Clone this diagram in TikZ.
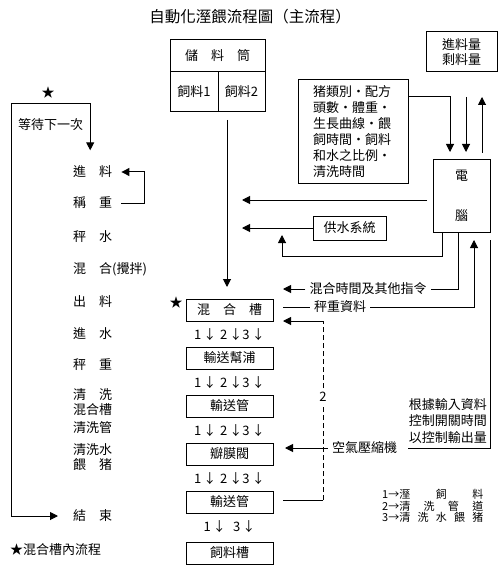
\documentclass[tikz,border=0pt]{standalone}
\usepackage{fontspec}
\setmainfont{Noto Sans CJK TC}
\usepackage{tikz}
\usetikzlibrary{positioning,arrows.meta}
\tikzset{c-box/.style={rectangle, minimum width=87pt, minimum height=22pt, text centered, inner sep=0pt, outer sep=0pt, draw=black, line width=1pt},
c-cell/.style={rectangle, inner sep=0pt, outer sep=0pt, draw=black, line width=1pt},
c-item/.style={anchor=west, inner sep=0pt, align=left},
c-tag/.style={inner sep=4pt},
c-flow/.style={inner sep=0pt},
link/.style={line width=1pt},
arrow/.style={line width=1pt,->,>={Triangle[length=8pt,width=8pt]}}}
\newcommand{\spreadchars}[2]{\makebox[#1][l]{#2}}

\begin{document}
\begin{tikzpicture}[x=1pt, y=-1pt, node distance=48pt, font=\fontsize{13pt}{15pt}\selectfont]
\useasboundingbox (0,0) rectangle (499,569);
\node (title) at (250,17) {\fontsize{15.5pt}{17pt}\selectfont 自動化溼餵流程圖（主流程）};

% storage
\node (store) [c-cell, minimum width=95pt, minimum height=32pt] at (217.5,56) {儲　料　筒};
\node (feed1) [c-cell, minimum width=48pt, minimum height=40pt, below right=0pt and 0pt of store.south west] {飼料1};
\node (feed2) [c-cell, minimum width=47pt, minimum height=40pt, right=0pt of feed1] {飼料2};

% main line
\node (tank) [c-box] at (229.5,310) {混　合　槽};
\node (pump) [c-box, below of=tank] {輸送幫浦};
\node (pipe1) [c-box, below of=pump] {輸送管};
\node (valve) [c-box, below of=pipe1] {瓣膜閥};
\node (pipe2) [c-box, below of=valve] {輸送管};
\node (trough) [c-box, below of=pipe2, node distance=51pt] {飼料槽};
\node (f1) [c-flow, below of=tank, node distance=25pt] {1\,↓\;2\,↓3\,↓};
\node (f2) [c-flow, below of=pump, node distance=25pt] {1\,↓\;2\,↓3\,↓};
\node (f3) [c-flow, below of=pipe1, node distance=25pt] {1\,↓\;2\,↓3\,↓};
\node (f4) [c-flow, below of=valve, node distance=25pt] {1\,↓\;2\,↓3\,↓};
\node (f5) [c-flow, below of=pipe2, node distance=25pt] {1\,↓\;\;3\,↓};
\node (star2) [c-flow] at (176,303) {★};

% control side
\node (qty) [c-cell, minimum width=71pt, minimum height=40pt, align=center] at (461.5,52) {進料量\\剩料量};
\node (info) [c-cell, minimum width=110pt, minimum height=104pt, text width=80pt, align=left, font=\fontsize{13pt}{16pt}\selectfont] at (353,132) {猪類別・配方\\頭數・體重・\\生長曲線・餵\\飼時間・飼料\\和水之比例・\\清洗時間};
\node (pc) [c-cell, minimum width=57pt, minimum height=72pt, align=center] at (461.5,196) {電\\[25pt]腦};
\node (water) [c-cell, minimum width=73pt, minimum height=24pt] at (349.5,228) {供水系統};
\node (mixcmd) [c-tag] at (368,289) {混合時間及其他指令};
\node (wdata) [c-tag] at (340,307) {秤重資料};
\node (air) [c-tag] at (364.5,448) {空氣壓縮機};
\node (ctrl) [c-tag, anchor=east, align=right, font=\fontsize{13pt}{16.5pt}\selectfont] at (491,421) {根據輸入資料\\控制開關時間\\以控制輸出量};
\node (legend) [c-item, font=\fontsize{11pt}{11.5pt}\selectfont] at (382,506) {1→\spreadchars{84pt}{溼\hfill 飼\hfill 料}\\2→\spreadchars{84pt}{清\hfill 洗\hfill 管\hfill 道}\\3→\spreadchars{84pt}{清\hfill 洗\hfill 水\hfill 餵\hfill 猪}};

% steps on the left
\node (star1) [c-flow] at (48,93) {★};
\node (wait) [c-item] at (18,125) {等待下一次};
\node (feed) [c-item] at (73,172) {進　料};
\node (weigh) [c-item] at (73,203) {稱　重};
\node (wwater) [c-item] at (73,237) {秤　水};
\node (mix) [c-item] at (73,269) {混　合(攪拌)};
\node (out) [c-item] at (73,302) {出　料};
\node (win) [c-item] at (73,334) {進　水};
\node (wweigh) [c-item] at (73,365) {秤　重};
\node (clean) [c-item] at (73,402) {清　洗\\混合槽};
\node (pipecl) [c-item] at (73,428) {清洗管};
\node (wfeed) [c-item] at (73,457) {清洗水\\餵　猪};
\node (stop) [c-item] at (73,516) {結　束};
\node (note) [c-item] at (10,550) {★混合槽內流程};

\coordinate (loopc) at (11,104);
\coordinate (sup1) at (242,200);
\coordinate (sup2) at (242,228);
\coordinate (wback) at (282,235);
\coordinate (mixin) at (283,289);
\coordinate (airin) at (285,448);
\coordinate (rb) at (323,500);
\coordinate (rt) at (323,321);

\draw [arrow, <->] ([xshift=-15pt]stop.west) -| (loopc) -| ([xshift=-2.5pt,yshift=15.5pt]feed.north);
\draw [arrow] ([xshift=9pt]weigh.east) -| ([xshift=32pt]feed.east) -- ([xshift=9pt]feed.east);
\draw [arrow] ([xshift=9pt,yshift=-8pt]feed1.south east) -- ([xshift=-2.5pt,yshift=12pt]tank.north);

\draw [arrow] ([yshift=-17pt]info.north east) -| ([xshift=-11.5pt,yshift=8pt]pc.north);
\draw [arrow] ([xshift=4.5pt,yshift=-25pt]qty.south) -- ([xshift=4.5pt,yshift=8pt]pc.north);
\draw [arrow] ([xshift=20.5pt,yshift=7pt]pc.north) -- ([xshift=20.5pt,yshift=-25pt]qty.south);
\draw [arrow] ([xshift=-6pt,yshift=-4pt]pc.west) -- (sup1);
\draw [arrow] (water.west) -- (sup2);
\draw [arrow] ([xshift=-19.5pt]pc.south) |- ([yshift=-21pt]wback) -- (wback);
\draw [link] ([xshift=-3.5pt]pc.south) |- (mixcmd.east);
\draw [arrow] (mixcmd.west) -- (mixin);
\draw [link] ([xshift=10pt,yshift=3pt]tank.east) -- (wdata.west);
\draw [arrow] (wdata.east) -| ([xshift=12.5pt,yshift=-8pt]pc.south);
\draw [link] ([xshift=28.5pt,yshift=-8pt]pc.south) |- ([xshift=7pt]air.east);
\draw [arrow] (air.west) -- (airin);

\draw [link] ([xshift=10pt,yshift=2pt]pipe2.east) -- (rb);
\draw [link, dash pattern=on 5pt off 3pt] (rb) -- (rt);
\draw [arrow] (rt) -- ([xshift=10pt]tank.south east);
\node (two) [fill=white, inner sep=2pt] at (323,397) {2};
\end{tikzpicture}
\end{document}
